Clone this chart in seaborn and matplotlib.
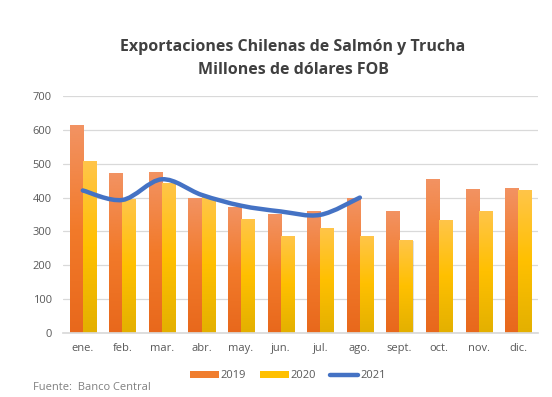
import numpy as np
import pandas as pd
import matplotlib
matplotlib.use("Agg")
import matplotlib.pyplot as plt
import seaborn as sns
from matplotlib.path import Path
from matplotlib.patches import PathPatch, Patch
from matplotlib.lines import Line2D
from matplotlib.colors import LinearSegmentedColormap

months = ["ene.", "feb.", "mar.", "abr.", "may.", "jun.", "jul.", "ago.", "sept.", "oct.", "nov.", "dic."]
v2019 = [614, 473, 476, 399, 373, 350, 361, 399, 361, 455, 426, 429]
v2020 = [508, 395, 442, 402, 337, 287, 311, 287, 275, 334, 361, 423]
v2021 = [421, 393, 454, 408, 376, 359, 349, 400]
title_lines = ["Exportaciones Chilenas de Salmón y Trucha", "Millones de dólares FOB"]
source = "Fuente:  Banco Central"

sns.set_theme(style="white")
plt.rcParams["font.family"] = ["Open Sans", "DejaVu Sans"]

df = pd.DataFrame({
    "mes": months * 2,
    "valor": v2019 + v2020,
    "serie": ["2019"] * 12 + ["2020"] * 12,
})

fig = plt.figure(figsize=(5.52, 3.97), dpi=100)
ax = fig.add_axes([63/552, 1-333/397, 475/552, 237/397])

sns.barplot(data=df, x="mes", y="valor", hue="serie", order=months,
            palette={"2019": "#F07D2E", "2020": "#FFC000"}, width=0.66, gap=0,
            saturation=1, legend=False, ax=ax, zorder=2, edgecolor="none")

cmaps = {
    0: LinearSegmentedColormap.from_list("o", ["#F29363", "#F27A2A", "#E8681C"]),
    1: LinearSegmentedColormap.from_list("y", ["#FFC54A", "#FFC000", "#E3B000"]),
}
grad = np.linspace(0, 1, 256).reshape(-1, 1)
for i, cont in enumerate(ax.containers):
    for bar in cont:
        x0, y0 = bar.get_x(), bar.get_y()
        w, h = bar.get_width(), bar.get_height()
        sh = plt.Rectangle((x0 + 0.025, y0), w, h - 2, color="#000000", alpha=0.12, zorder=1.5, lw=0)
        ax.add_patch(sh)
        im = ax.imshow(grad, cmap=cmaps[i], aspect="auto", extent=(x0, x0 + w, y0, y0 + h),
                       origin="upper", zorder=2.5)
        im.set_clip_path(bar)

# smoothed 2021 line (Catmull-Rom rendered as cubic Bezier segments)
xs = np.arange(len(v2021), dtype=float)
ys = np.array(v2021, dtype=float)
verts = [(xs[0], ys[0])]
codes = [Path.MOVETO]
t = 1/6
for k in range(len(xs) - 1):
    p0 = (xs[max(k-1, 0)], ys[max(k-1, 0)])
    p1 = (xs[k], ys[k])
    p2 = (xs[k+1], ys[k+1])
    p3 = (xs[min(k+2, len(xs)-1)], ys[min(k+2, len(xs)-1)])
    c1 = (p1[0] + (p2[0]-p0[0])*t, p1[1] + (p2[1]-p0[1])*t)
    c2 = (p2[0] - (p3[0]-p1[0])*t, p2[1] - (p3[1]-p1[1])*t)
    verts += [c1, c2, p2]
    codes += [Path.CURVE4] * 3
ax.add_patch(PathPatch(Path(verts, codes), fill=False, edgecolor="#4472C4", lw=3.2,
                       capstyle="round", zorder=4))

ax.set_ylim(0, 700)
ax.set_xlim(-0.5, 11.5)
ax.set_yticks(range(0, 701, 100))
ax.yaxis.grid(True, color="#D9D9D9", lw=0.9)
ax.set_axisbelow(True)
for s in ["top", "right", "left"]:
    ax.spines[s].set_visible(False)
ax.spines["bottom"].set_color("#D9D9D9")
ax.set_xlabel("")
ax.set_ylabel("")
ax.tick_params(axis="both", length=0, colors="#595959", labelsize=8)
ax.tick_params(axis="x", pad=7)
ax.tick_params(axis="y", pad=8)

fig.text(293/552, 1-47/397, title_lines[0], ha="center", va="center", fontsize=11.5,
         fontweight="bold", color="#404040")
fig.text(293/552, 1-70/397, title_lines[1], ha="center", va="center", fontsize=11.5,
         fontweight="bold", color="#404040")

handles = [Patch(facecolor="#F07D2E", edgecolor="none"), Patch(facecolor="#FFC000", edgecolor="none"),
           Line2D([0], [0], color="#4472C4", lw=3.2, solid_capstyle="round")]
leg = fig.legend(handles, ["2019", "2020", "2021"], loc="center", bbox_to_anchor=(288/552, 1-376/397),
                 ncol=3, frameon=False, fontsize=8, handlelength=2.6, handleheight=0.55,
                 columnspacing=1.2, handletextpad=0.2, labelcolor="#595959")

fig.text(33/552, 1-387/397, source, ha="left", va="center", fontsize=8, color="#808080")

fig.savefig("out.png", dpi=100)
